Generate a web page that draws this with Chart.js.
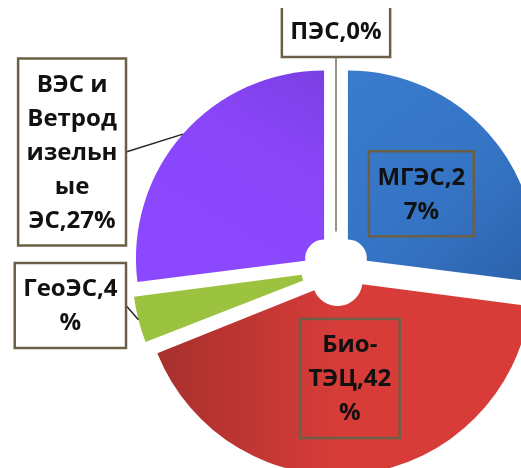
<!DOCTYPE html>
<html><head><meta charset="utf-8">
<script src="https://cdn.jsdelivr.net/npm/chart.js@4/dist/chart.umd.min.js"></script>
<style>html,body{margin:0;padding:0;background:#fff;overflow:hidden}#wrap{width:521px;height:468px;position:relative}</style>
</head><body><div id="wrap"><canvas id="c"></canvas></div>
<script>
// ---- data ----
const categories = ['МГЭС', 'Био-ТЭЦ', 'ГеоЭС', 'ВЭС и Ветродизельные ЭС', 'ПЭС'];
const shares = [27, 42, 4, 27, 0];
const sliceColors = ['#3777c6', '#d43b38', '#9cc33f', '#8a46fb', '#4bacc6'];

// ---- style / layout ----
const RADIUS = 188;
const explode = [63.5, 48, 36.5, 63.5, 0];
const FONT = 'bold 24px "Open Sans", "Noto Sans", sans-serif';
const LINE_H = 34, PAD = 8.5, WRAP_W = 100;
const BOX_COLOR = '#6b6047';
const labelPlace = [
  {mode: 'inside', r: 0.52},
  {mode: 'inside', r: 0.49},
  {mode: 'outside', right: -1.117, cy: 0.194, leader: 'side'},
  {mode: 'outside', right: -1.117, cy: -0.622, leader: 'side'},
  {mode: 'outside', cx: 0, bottom: -1.128, leader: 'top', from: 0.2, openTop: true}
];

function sliceFill(c) {
  const chart = c.chart, a = chart.chartArea, i = c.dataIndex;
  if (!a) return sliceColors[i];
  const g2 = chart.ctx;
  const cx = (a.left + a.right) / 2, cy = (a.top + a.bottom) / 2, R = RADIUS;
  let g;
  if (i === 0) { g = g2.createLinearGradient(cx, cy - R, cx + R, cy + 0.2 * R); g.addColorStop(0, '#3a7bcc'); g.addColorStop(0.55, '#3574c4'); g.addColorStop(1, '#2a60a8'); }
  else if (i === 1) { g = g2.createLinearGradient(cx - R, cy, cx, cy); g.addColorStop(0, '#a52f2c'); g.addColorStop(1, '#d73c39'); }
  else if (i === 3) { g = g2.createLinearGradient(cx - 0.6 * R, cy, cx, cy - R); g.addColorStop(0, '#8c48fe'); g.addColorStop(0.6, '#8945f8'); g.addColorStop(1, '#7a3fe2'); }
  else return sliceColors[i];
  return g;
}

function wrapText(ctx, text, maxW) {
  const lines = []; let cur = '';
  const fits = s => ctx.measureText(s).width <= maxW;
  text.split(' ').forEach(word => {
    const parts = word.split(/(?<=-)/);
    parts.forEach((p, j) => {
      const cand = cur + ((j === 0 && cur) ? ' ' : '') + p;
      if (fits(cand)) { cur = cand; return; }
      if (cur) { lines.push(cur); cur = ''; }
      if (fits(p)) { cur = p; return; }
      let s = '';
      for (const ch of p) { if (fits(s + ch)) s += ch; else { lines.push(s); s = ch; } }
      cur = s;
    });
  });
  if (cur) lines.push(cur);
  return lines;
}

const labelPlugin = {
  id: 'boxLabels',
  afterDatasetsDraw(chart) {
    const ctx = chart.ctx, meta = chart.getDatasetMeta(0);
    ctx.save();
    ctx.font = FONT;
    meta.data.forEach((arc, i) => {
      const p = arc.getProps(['x', 'y', 'startAngle', 'endAngle', 'outerRadius', 'innerRadius'], true);
      const R = p.outerRadius;
      const mid = (p.startAngle + p.endAngle) / 2;
      const circ = p.endAngle - p.startAngle;
      const fix = 1 - Math.sin(Math.min(Math.PI, circ || 0));
      const t = (explode[i] / 4) * (1 + fix);
      const ox = p.x + Math.cos(mid) * t, oy = p.y + Math.sin(mid) * t;
      const text = categories[i] + ',' + shares[i] + '%';
      const lines = wrapText(ctx, text, WRAP_W);
      const tw = Math.max(...lines.map(l => ctx.measureText(l).width));
      const bw = tw + 2 * PAD, bh = lines.length * LINE_H + 2 * PAD;
      const cfg = labelPlace[i];
      let bx, by;
      if (cfg.mode === 'inside') {
        bx = ox + Math.cos(mid) * R * cfg.r; by = oy + Math.sin(mid) * R * cfg.r;
      } else {
        bx = cfg.right !== undefined ? p.x + cfg.right * R - bw / 2 : p.x + cfg.cx * R;
        by = cfg.bottom !== undefined ? p.y + cfg.bottom * R - bh / 2 : p.y + cfg.cy * R;
        ctx.beginPath();
        if (cfg.leader === 'side') {
          ctx.moveTo(ox + Math.cos(mid) * R, oy + Math.sin(mid) * R);
          ctx.lineTo(bx + bw / 2, by);
          ctx.strokeStyle = '#262626';
        } else {
          ctx.moveTo(ox + Math.cos(mid) * R * cfg.from, oy + Math.sin(mid) * R * cfg.from);
          ctx.lineTo(bx, by + bh / 2);
          ctx.strokeStyle = '#7a705c';
        }
        ctx.lineWidth = 1.5;
        ctx.stroke();
      }
      const L = bx - bw / 2, T = by - bh / 2;
      if (cfg.mode === 'outside') { ctx.fillStyle = '#ffffff'; ctx.fillRect(L, T, bw, bh); }
      ctx.strokeStyle = BOX_COLOR; ctx.lineWidth = 2.5;
      ctx.beginPath();
      if (cfg.openTop) { ctx.moveTo(L, T + 2); ctx.lineTo(L, T + bh); ctx.lineTo(L + bw, T + bh); ctx.lineTo(L + bw, T + 2); }
      else ctx.rect(L, T, bw, bh);
      ctx.stroke();
      ctx.fillStyle = '#111111';
      ctx.textAlign = 'center'; ctx.textBaseline = 'middle';
      lines.forEach((l, k) => ctx.fillText(l, bx, T + PAD + LINE_H * (k + 0.5) + 1));
    });
    ctx.restore();
  }
};

new Chart(document.getElementById('c'), {
  type: 'doughnut',
  data: {
    labels: categories,
    datasets: [{
      data: shares,
      backgroundColor: sliceFill,
      borderWidth: 0,
      offset: explode,
      hoverOffset: 0,
      clip: false
    }]
  },
  options: {
    responsive: true,
    maintainAspectRatio: false,
    animation: false,
    radius: RADIUS,
    cutout: '10%',
    layout: {padding: {left: 151, top: 70, right: 0, bottom: 0}},
    plugins: {legend: {display: false}, tooltip: {enabled: false}}
  },
  plugins: [labelPlugin]
});
</script>
</body></html>
